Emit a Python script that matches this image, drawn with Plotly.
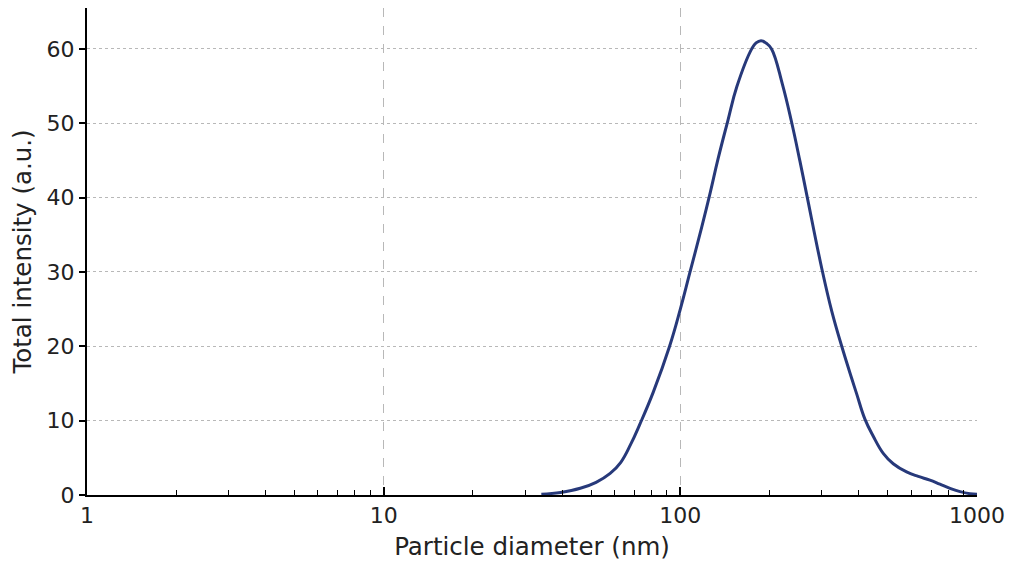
import plotly.graph_objects as go

# particle size distribution
diameter = [34, 39.5, 46, 52, 58, 63, 68, 73, 81, 92, 100, 107.5, 118, 126,
            134, 144.5, 155, 174, 180, 187, 195, 203, 221, 237, 253, 267, 300, 324,
            350, 378, 393, 419, 447, 483, 522, 579, 634, 694, 750, 811, 877, 946, 1000]
intensity = [0.1, 0.35, 0.9, 1.7, 2.9, 4.4, 6.8, 9.5, 13.8, 20, 25, 29.8, 36.0, 40.6,
             45.2, 50.3, 54.9, 60, 60.8, 61.1, 60.75, 60, 55.2, 50.2, 44.9, 40.3, 30.4, 24.7,
             20, 15.7, 13.6, 10.2, 7.9, 5.6, 4.2, 3.1, 2.5, 2.0, 1.45, 0.9, 0.45, 0.18, 0.1]

x_major = [1, 10, 100, 1000]
x_labels = ["1", "10", "100", "1000"]
x_minor = [m * d for d in [1, 10, 100] for m in range(2, 10)]
y_ticks = [0, 10, 20, 30, 40, 50, 60]

fnt = "DejaVu Sans"

fig = go.Figure()
fig.add_trace(go.Scatter(x=diameter, y=intensity, mode="lines",
                         line=dict(color="#27397a", width=3, shape="spline", smoothing=1.2),
                         showlegend=False))

# page body has an 8px margin, so the figure is sized and offset for that
fig.update_layout(
    width=1016, height=568,
    margin=dict(l=79, r=47, t=0, b=81),
    paper_bgcolor="white", plot_bgcolor="white",
    font=dict(family=fnt, size=22, color="#222222"),
)
fig.update_xaxes(
    type="log", range=[0, 3], automargin=False,
    tickmode="array", tickvals=x_major, ticktext=x_labels,
    ticks="inside", ticklen=8, tickwidth=1.5, tickcolor="black",
    showline=True, linecolor="black", linewidth=2,
    showgrid=True, gridcolor="#b8b8b8", gridwidth=1, griddash="dash",
    minor=dict(tickmode="array", tickvals=x_minor, ticks="inside", ticklen=5,
               tickwidth=1, tickcolor="black", showgrid=False),
    title=dict(text="Particle diameter (nm)", font=dict(size=24.5), standoff=10),
    zeroline=False,
)
fig.update_yaxes(
    range=[0, 65.5], automargin=False,
    tickmode="array", tickvals=y_ticks,
    ticks="outside", ticklen=6, tickwidth=1.5, tickcolor="black",
    showline=True, linecolor="black", linewidth=2,
    showgrid=True, gridcolor="#b8b8b8", gridwidth=1, griddash="dot",
    title=dict(text="Total intensity (a.u.)", font=dict(size=24.5), standoff=12),
    zeroline=False,
)

fig.write_html("out.html")
